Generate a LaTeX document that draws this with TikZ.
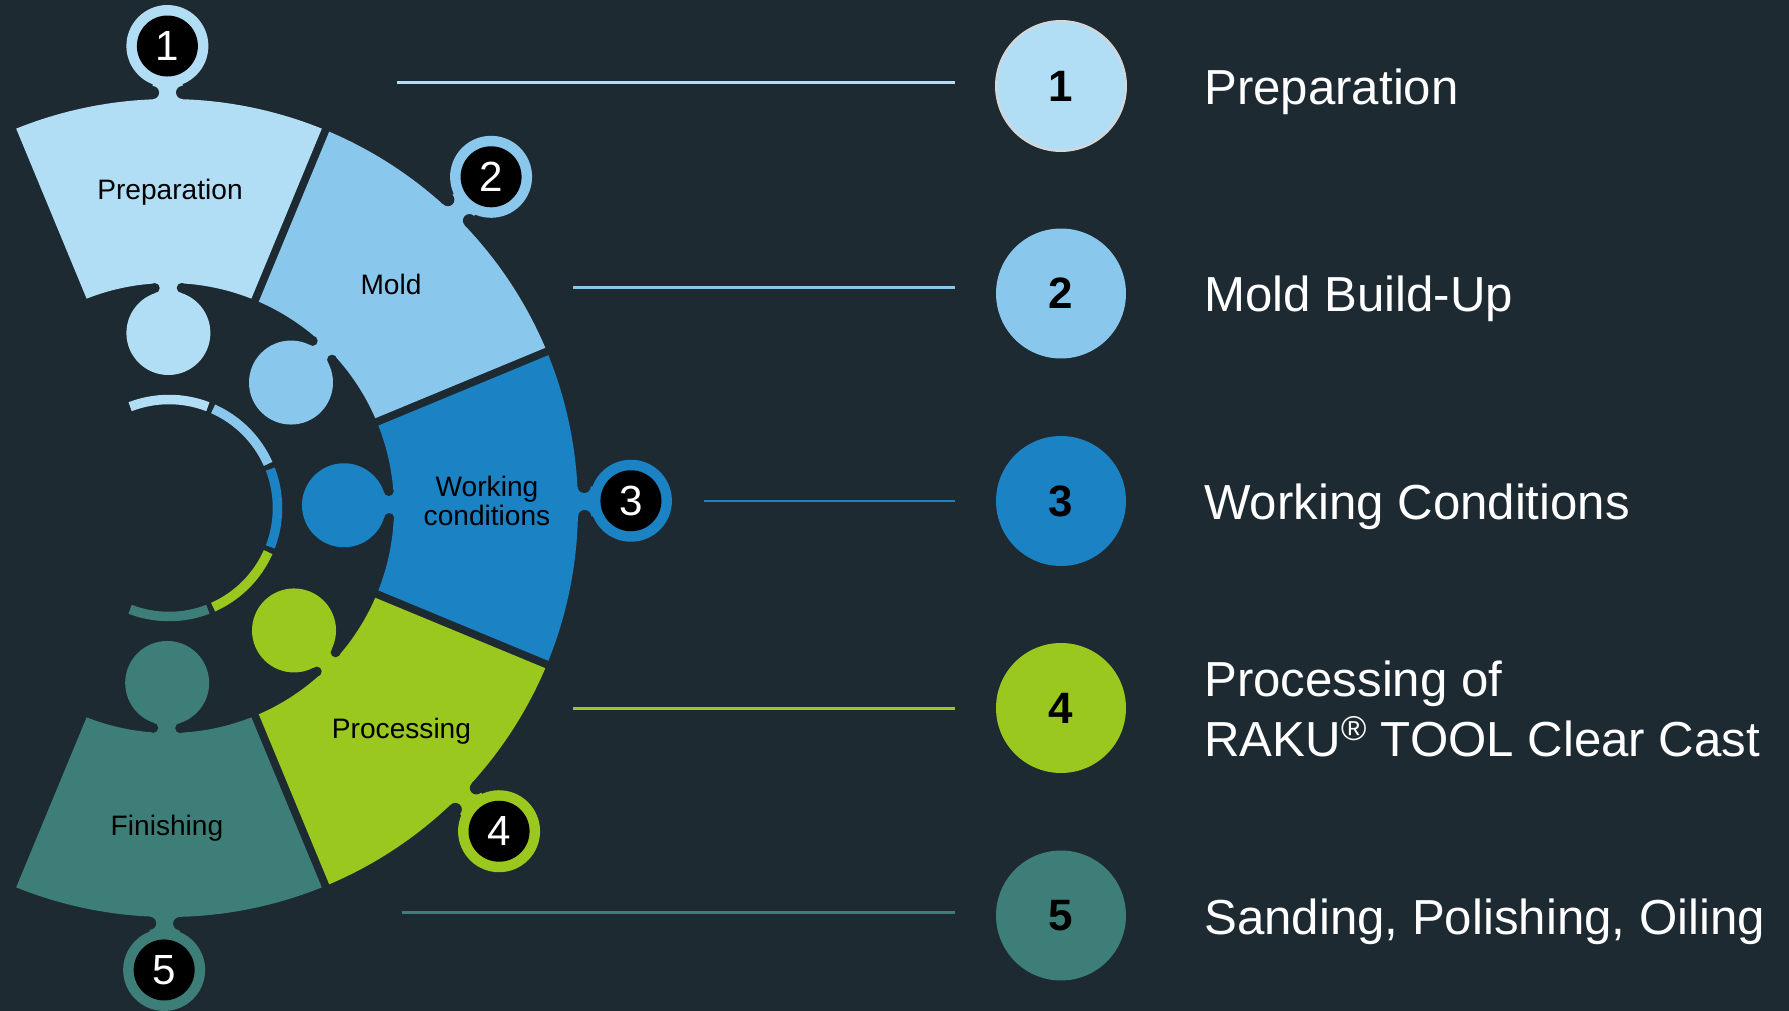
\documentclass[tikz,border=0pt]{standalone}
\usepackage{fontspec}
\setmainfont{Liberation Sans}
\definecolor{bg}{HTML}{1E2A31}
\definecolor{cA}{HTML}{B2DEF5}
\definecolor{cB}{HTML}{89C7EC}
\definecolor{cC}{HTML}{1B82C3}
\definecolor{cD}{HTML}{9AC81E}
\definecolor{cE}{HTML}{3D7F78}
\definecolor{lgray}{HTML}{D6D6D6}
\begin{document}
\begin{tikzpicture}[x=0.02cm,y=0.02cm,
  tabnum/.style={text=white,inner sep=0pt,font=\fontsize{24}{24}\selectfont},
  seglab/.style={text=black,inner sep=0pt,anchor=base,font=\fontsize{16}{15.2}\selectfont},
  bignum/.style={circle,inner sep=0pt,minimum size=2.6cm,text=black,font=\bfseries\fontsize{25}{25}\selectfont},
  bigtext/.style={text=white,inner sep=0pt,anchor=base west,font=\fontsize{28}{34.1}\selectfont},
  guide/.style={line width=0.06cm}]
\useasboundingbox (-169,-503) rectangle (1620,508);
\fill[bg] (-169,-503) rectangle (1620,508);
\clip (-169,-503) rectangle (1620,508);
% segments, knobs, tabs, inner ring
\foreach \i/\c/\t/\col in {1/90/90.2/cA,2/45/45.8/cB,3/0/0.9/cC,4/-45/-44.4/cD,5/-90/-90.6/cE}{
  \pgfmathsetmacro\aa{\c+22.5-0.56}
  \pgfmathsetmacro\ab{\c-22.5+0.56}
  \pgfmathsetmacro\ba{\c-22.5+1.02}
  \pgfmathsetmacro\bb{\c+22.5-1.02}
  \fill[\col] (\aa:409) arc[start angle=\aa, end angle=\ab, radius=409]
     -- (\ba:225) arc[start angle=\ba, end angle=\bb, radius=225] -- cycle;
  \begin{scope}[rotate=\c]
    \draw[\col, line width=0.19cm] (21:108.5) arc[start angle=21, end angle=-21, radius=108.5];
  \end{scope}
  \begin{scope}[rotate=\t]
    % outer tab with flared neck
    \fill[\col] (403,-15) rectangle (428,15);
    \fill[\col] (462,0) circle[radius=41];
    \fill[bg] (415.5,15) circle[radius=6.5];
    \fill[bg] (415.5,-15) circle[radius=6.5];
    \fill[black] (462,0) circle[radius=30.5];
    % inner knob with flared neck
    \fill[\col] (175,-13.5) rectangle (229,13.5);
    \fill[\col] (175,0) circle[radius=42];
    \fill[bg] (220,13.5) circle[radius=5];
    \fill[bg] (220,-13.5) circle[radius=5];
    \node[tabnum] (tab\i) at (462,0) {\i};
  \end{scope}
}
% segment labels
\node[seglab] (sl1) at (1,308.7) {Preparation};
\node[seglab] (sl2) at (222,213) {Mold};
\node[seglab] (sl3) at (318,11.3) {\begin{tabular}[t]{@{}c@{}}Working\\conditions\end{tabular}};
\node[seglab] (sl4) at (232.5,-230.3) {Processing};
\node[seglab] (sl5) at (-2,-327) {Finishing};
% guide lines
\coordinate (g1a) at (228,425.5);   \coordinate (g1b) at (786,425.5);
\coordinate (g2a) at (404,220.5);   \coordinate (g2b) at (786,220.5);
\coordinate (g3a) at (535,7);       \coordinate (g3b) at (786,7);
\coordinate (g4a) at (404,-200.6);  \coordinate (g4b) at (786,-200.6);
\coordinate (g5a) at (232.6,-404.8);\coordinate (g5b) at (786,-404.8);
\draw[guide,cA] (g1a) -- (g1b);
\draw[guide,cB] (g2a) -- (g2b);
\draw[guide,cC] (g3a) -- (g3b);
\draw[guide,cD] (g4a) -- (g4b);
\draw[guide,cE] (g5a) -- (g5b);
% right circles
\node[bignum,fill=cA,draw=lgray,line width=0.04cm] (n1) at (892,422) {1};
\node[bignum,fill=cB] (n2) at (892,214.5) {2};
\node[bignum,fill=cC] (n3) at (892,7) {3};
\node[bignum,fill=cD] (n4) at (892,-200) {4};
\node[bignum,fill=cE] (n5) at (892,-407.5) {5};
% right texts
\node[bigtext] (r1) at (1035,403) {Preparation};
\node[bigtext] (r2) at (1035,196.3) {Mold Build-Up};
\node[bigtext] (r3) at (1035,-11.4) {Working Conditions};
\node[bigtext] (r4) at (1035,-188.7) {\begin{tabular}[t]{@{}l@{}}Processing of\\RAKU\textsuperscript{®} TOOL Clear Cast\end{tabular}};
\node[bigtext] (r5) at (1035,-426) {Sanding, Polishing, Oiling};
\end{tikzpicture}
\end{document}
